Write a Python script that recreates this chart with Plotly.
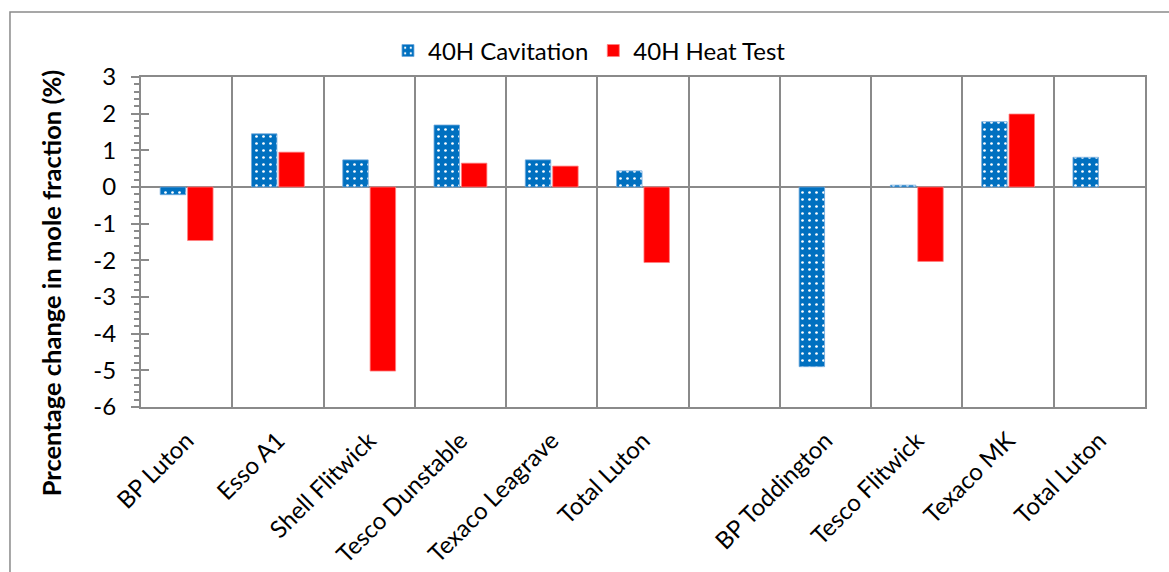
import plotly.graph_objects as go

categories = ["BP Luton", "Esso A1", "Shell Flitwick", "Tesco Dunstable", "Texaco Leagrave",
              "Total Luton", "", "BP Toddington", "Tesco Flitwick", "Texaco MK", "Total Luton"]
cavitation = [-0.21, 1.45, 0.74, 1.69, 0.74, 0.44, None, -4.90, 0.05, 1.78, 0.81]
heat_test = [-1.46, 0.95, -5.02, 0.65, 0.57, -2.06, None, None, -2.03, 1.99, None]
y_ticks = [3, 2, 1, 0, -1, -2, -3, -4, -5, -6]
y_tick_labels = [str(v) for v in y_ticks]

positions = list(range(len(categories)))
FONT = "Lato"
GRAY = "#8a8a8a"

fig = go.Figure()
fig.add_trace(go.Bar(
    x=positions, y=cavitation, name="40H Cavitation",
    marker=dict(color="#0070C0", line=dict(color="#6fa8dc", width=0.8),
                pattern=dict(shape=".", bgcolor="#0070C0", fgcolor="white",
                             size=7, solidity=0.12, fillmode="replace")),
))
fig.add_trace(go.Bar(
    x=positions, y=heat_test, name="40H Heat Test",
    marker=dict(color="#FF0000", line=dict(color="#ff8080", width=0.8)),
))
# invisible helper trace so the overlay axis (inner half of major ticks) is drawn
fig.add_trace(go.Scatter(x=[None], y=[None], yaxis="y2", showlegend=False, hoverinfo="skip"))

fig.update_layout(
    width=1169, height=572,
    margin=dict(l=141, r=24, t=77, b=165, autoexpand=False),
    paper_bgcolor="white", plot_bgcolor="white",
    font=dict(family=FONT, size=24, color="black"),
    barmode="group", bargap=0.40, bargroupgap=0.07,
    showlegend=True,
    legend=dict(orientation="h", x=0.246, xanchor="left", y=1.079, yanchor="middle",
                font=dict(family=FONT, size=24, color="black"), bgcolor="rgba(0,0,0,0)"),
    xaxis=dict(
        range=[-0.5, len(categories) - 0.5], automargin=False,
        tickmode="array", tickvals=positions, ticktext=categories,
        tickangle=-45, ticks="", showgrid=False,
        showline=True, linecolor=GRAY, linewidth=2, mirror=True,
        zeroline=False, ticklabelstandoff=8,
        tickfont=dict(family=FONT, size=24, color="black"),
        minor=dict(tickmode="array", tickvals=[p - 0.5 for p in positions] + [positions[-1] + 0.5],
                   showgrid=True, gridcolor=GRAY, gridwidth=2, ticks=""),
    ),
    yaxis=dict(
        range=[-6, 3], automargin=False,
        tickmode="array", tickvals=y_ticks, ticktext=y_tick_labels,
        ticks="outside", ticklen=8, tickwidth=2, tickcolor=GRAY,
        showgrid=False, showline=True, linecolor=GRAY, linewidth=2, mirror=True,
        zeroline=True, zerolinecolor=GRAY, zerolinewidth=2,
        ticklabelstandoff=10,
        tickfont=dict(family=FONT, size=24, color="black"),
        minor=dict(dtick=0.2, tick0=0, ticks="outside", ticklen=5, tickwidth=1.5,
                   tickcolor=GRAY, showgrid=False),
    ),
    yaxis2=dict(
        range=[-6, 3], overlaying="y", side="left", anchor="x", automargin=False,
        tickmode="array", tickvals=y_ticks, ticks="inside", ticklen=8, tickwidth=2,
        tickcolor=GRAY, showticklabels=False, showgrid=False, showline=False, zeroline=False,
    ),
    annotations=[dict(
        text="<b>Prcentage change in mole fraction (%)</b>",
        xref="paper", yref="paper", x=-0.0896, y=0.375, textangle=-90,
        showarrow=False, xanchor="center", yanchor="middle",
        font=dict(family=FONT, size=25.5, color="black"),
    )],
    shapes=[dict(type="rect", xref="paper", yref="paper",
                 x0=-0.1305, x1=1.3, y0=-1.0, y1=1.197,
                 line=dict(color=GRAY, width=1.5), fillcolor="rgba(0,0,0,0)", layer="below")],
)

fig.write_html("out.html", config={"displayModeBar": False},
               post_script="document.body.style.margin='0';document.body.style.overflow='hidden';")
